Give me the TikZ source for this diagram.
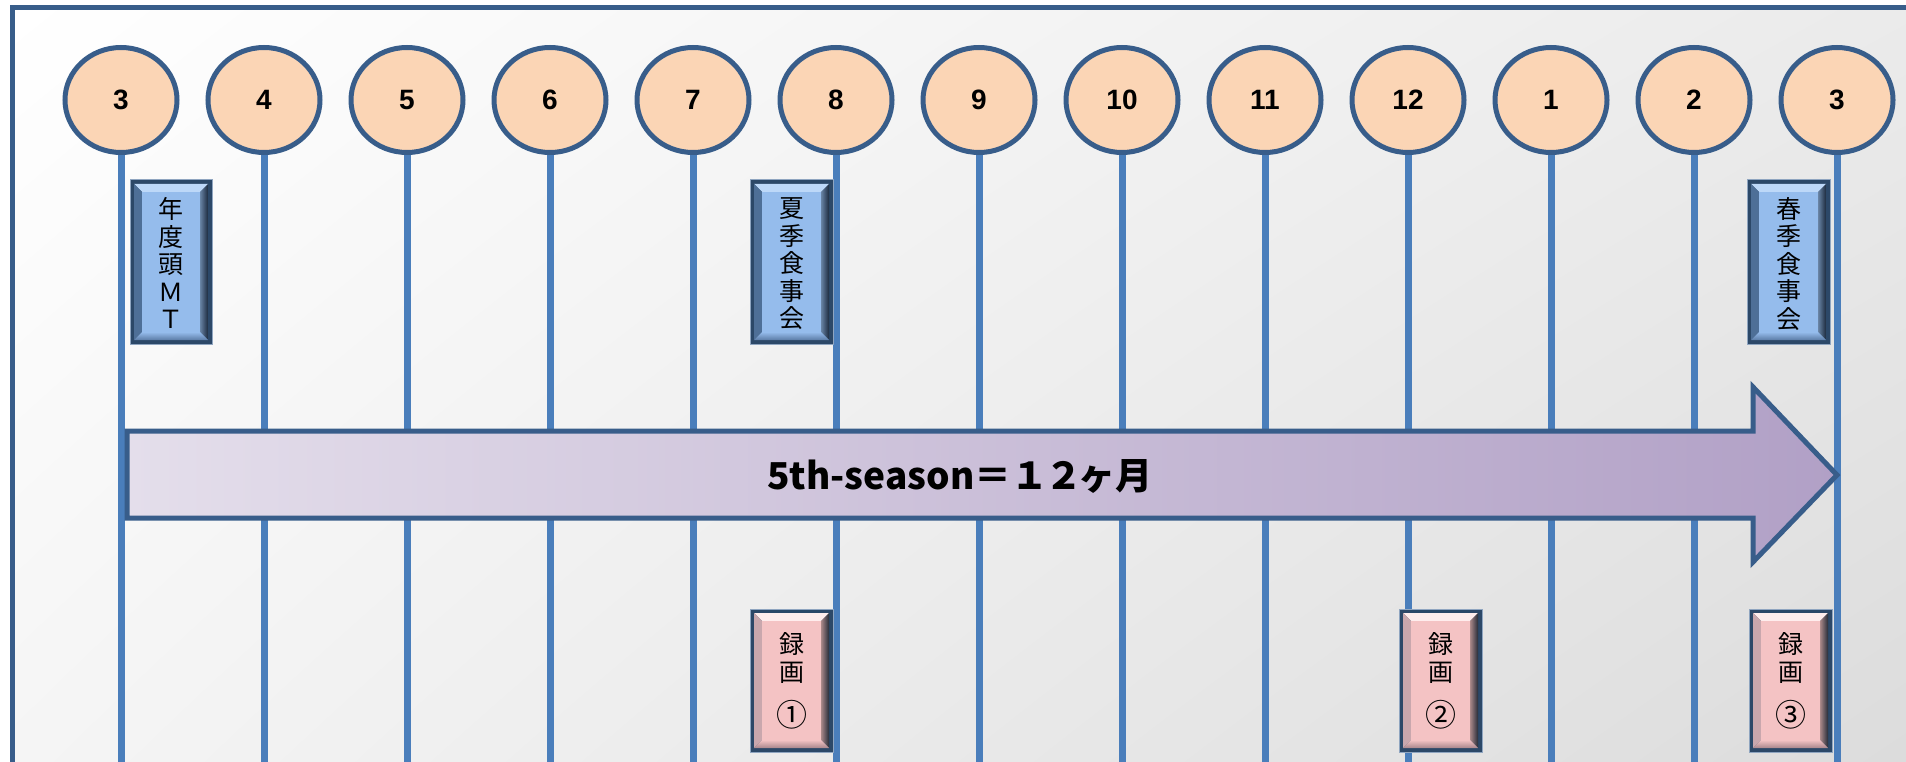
\documentclass[tikz,border=0pt]{standalone}
\usepackage{fontspec}
\setmainfont{Liberation Sans}
\newfontfamily\jpfont{Noto Sans CJK JP}
\usetikzlibrary{shapes.geometric,shadings}

\definecolor{tickblue}{HTML}{4A7EBB}
\definecolor{edgeblue}{HTML}{385D8A}
\definecolor{peach}{HTML}{FBD5B5}
\definecolor{boxedge}{HTML}{2C4868}
\definecolor{boxrim}{HTML}{8FA5C0}
% blue box colours
\definecolor{bluetop}{HTML}{BDD8F8}
\definecolor{blueface}{HTML}{95BCEC}
\definecolor{blueleft}{HTML}{4E6F97}
\definecolor{blueright}{HTML}{1C2B3E}
\definecolor{bluebot}{HTML}{5C7CA6}
% pink box colours
\definecolor{pinktop}{HTML}{FFEDED}
\definecolor{pinkface}{HTML}{F4C3C4}
\definecolor{pinkleft}{HTML}{C9A7AD}
\definecolor{pinkright}{HTML}{262C38}
\definecolor{pinkbot}{HTML}{A8868C}
\definecolor{seasonL}{HTML}{E4DEEB}
\definecolor{seasonR}{HTML}{B1A0C6}

% bevelled box: #1 colour set, (#2,#3) top left, (#4,#5) bottom right, y counted downward
\newcommand\bevelbox[5]{%
  \fill[draw=boxrim, line width=1pt, fill=boxedge] (#2,-#3) rectangle (#4,-#5);
  \fill[#1top] (#2+4,-#3-4) -- (#4-4,-#3-4) -- (#4-12,-#3-12) -- (#2+12,-#3-12) -- cycle;
  \fill[#1left] (#2+4,-#3-4) -- (#2+12,-#3-12) -- (#2+12,-#5+12) -- (#2+4,-#5+4) -- cycle;
  \shade[left color=#1face!70!black, right color=#1right] (#4-4,-#3-4) -- (#4-12,-#3-12) -- (#4-12,-#5+12) -- (#4-4,-#5+4) -- cycle;
  \shade[top color=#1face, bottom color=#1bot] (#2+4,-#5+4) -- (#2+12,-#5+12) -- (#4-12,-#5+12) -- (#4-4,-#5+4) -- cycle;
  \fill[#1face] (#2+12,-#3-12) rectangle (#4-12,-#5+12);
}
\newcommand\bignum[1]{{\fontsize{31}{27.5}\selectfont #1}}

\tikzset{
  month/.style={ellipse, draw=edgeblue, fill=peach, line width=5pt,
    minimum width=112pt, minimum height=105pt, inner sep=0pt,
    font=\fontsize{28}{30}\selectfont\bfseries},
  tick/.style={tickblue, line width=7pt},
  boxtext/.style={align=center, inner sep=0pt,
    font=\jpfont\fontsize{25}{27.5}\selectfont},
}

\begin{document}
\begin{tikzpicture}[x=1pt,y=1pt]
		\useasboundingbox (0,0) rectangle (1906,-762);
		\clip (0,0) rectangle (1906,-762);
		
		% background and frame
		\shade[upper left=white, upper right=black!8, lower left=black!4, lower right=black!14] (12,-8) rectangle (1925,-780);
		\draw[edgeblue, line width=5pt] (12,-8) rectangle (1925,-780);
		
		% months
		\foreach \m [count=\i from 0] in {3,4,5,6,7,8,9,10,11,12,1,2,3} {
			\node[month] (m\i) at (121+143*\i,-100) {\m};
			\coordinate (e\i) at (121+143*\i,-770);
			\draw[tick] (m\i.south) -- (e\i);
		}
		
		% season arrow
		\draw[edgeblue, line width=5pt, left color=seasonL, right color=seasonR, line join=miter]
			(127,-431) -- (1753,-431) -- (1753,-387) -- (1837,-475) -- (1753,-562) -- (1753,-518) -- (127,-518) -- cycle;
		\node[font=\jpfont\bfseries\fontsize{37}{40}\selectfont] (season) at (960,-476) {5th-season＝１\kern-3pt２\kern-4ptヶ月};
		
		% events
		\bevelbox{blue}{130}{180}{212}{344}
		\node[boxtext] (mt) at (171,-263) {年\\度\\頭\\Ｍ\\Ｔ};
		\bevelbox{blue}{750}{180}{833}{344}
		\node[boxtext] (summer) at (791.5,-264) {夏\\季\\食\\事\\会};
		\bevelbox{blue}{1747}{180}{1830}{344}
		\node[boxtext] (spring) at (1788.5,-264) {春\\季\\食\\事\\会};
		
		% recordings
		\bevelbox{pink}{750}{609}{833}{752}
		\node[boxtext] (rec1) at (791.5,-681) {録\\画\\[16pt]\bignum{①}};
		\bevelbox{pink}{1399}{609}{1482}{752}
		\node[boxtext] (rec2) at (1440.5,-681) {録\\画\\[16pt]\bignum{②}};
		\bevelbox{pink}{1749}{609}{1832}{752}
		\node[boxtext] (rec3) at (1790.5,-681) {録\\画\\[16pt]\bignum{③}};
		
	\end{tikzpicture}
\end{document}
